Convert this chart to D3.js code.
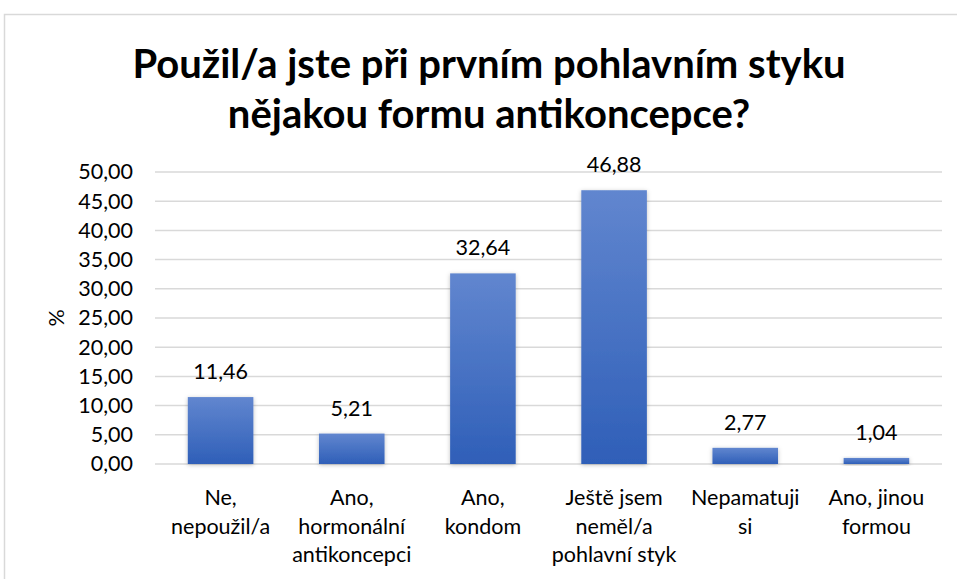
<!DOCTYPE html>
<html>
<head>
<meta charset="utf-8">
<script src="https://cdn.jsdelivr.net/npm/d3@7"></script>
<style>
  body { margin: 0; background: #fff; }
  text { font-family: Lato, "Open Sans", sans-serif; fill: #000; }
</style>
</head>
<body>
<div id="chart"></div>
<script>
// chart data
const categories = [
  "Ne,\nnepoužil/a",
  "Ano,\nhormonální\nantikoncepci",
  "Ano,\nkondom",
  "Ještě jsem\nneměl/a\npohlavní styk",
  "Nepamatuji\nsi",
  "Ano, jinou\nformou"
];
const values = [11.46, 5.21, 32.64, 46.88, 2.77, 1.04];
const yTicks = [0, 5, 10, 15, 20, 25, 30, 35, 40, 45, 50];
const titleLines = ["Použil/a jste při prvním pohlavním styku", "nějakou formu antikoncepce?"];
const yTitle = "%";

const W = 957, H = 579;
const fs = 21.5;
const fmt = v => d3.format(".2f")(v).replace(".", ",");

const svg = d3.select("#chart").append("svg")
    .attr("width", W)
    .attr("height", H);

// gradient for bars
const defs = svg.append("defs");
const grad = defs.append("linearGradient")
    .attr("id", "barGrad")
    .attr("x1", 0).attr("y1", 0).attr("x2", 0).attr("y2", 1);
grad.append("stop").attr("offset", "0%").attr("stop-color", "#6186cf");
grad.append("stop").attr("offset", "100%").attr("stop-color", "#2f5fb8");

const shadow = defs.append("filter").attr("id", "shadow")
    .attr("x", "-20%").attr("y", "-20%").attr("width", "140%").attr("height", "140%");
shadow.append("feDropShadow")
    .attr("dx", 0).attr("dy", 1).attr("stdDeviation", 2)
    .attr("flood-color", "#000").attr("flood-opacity", 0.25);

// chart frame
svg.append("rect")
    .attr("x", 4.5).attr("y", 14.5)
    .attr("width", W + 10).attr("height", H + 10)
    .attr("fill", "none")
    .attr("stroke", "#d9d9d9")
    .attr("stroke-width", 1.5);

// title
svg.append("g").selectAll("text")
  .data(titleLines)
  .join("text")
    .attr("x", 489)
    .attr("y", (d, i) => 78 + i * 50)
    .attr("text-anchor", "middle")
    .attr("font-weight", "bold")
    .attr("font-size", 40)
    .text(d => d);

const x = d3.scaleBand()
    .domain(categories)
    .range([155, 942])
    .paddingInner(0.5)
    .paddingOuter(0.25);

const y = d3.scaleLinear()
    .domain([0, 50])
    .range([464, 172]);

// gridlines
svg.append("g")
    .attr("stroke", "#d9d9d9")
    .attr("stroke-width", 1.5)
  .selectAll("line")
  .data(yTicks)
  .join("line")
    .attr("x1", 155).attr("x2", 942)
    .attr("y1", d => y(d)).attr("y2", d => y(d));

// y axis labels
const yAxis = d3.axisLeft(y)
    .tickValues(yTicks)
    .tickFormat(fmt)
    .tickSize(0)
    .tickPadding(0);
const gy = svg.append("g")
    .attr("transform", "translate(133,0)")
    .call(yAxis);
gy.select(".domain").remove();
gy.selectAll("text")
    .attr("font-size", fs)
    .attr("font-family", "Lato, sans-serif")
    .attr("fill", "#000");

// y title
svg.append("text")
    .attr("transform", "translate(64,318) rotate(-90)")
    .attr("text-anchor", "middle")
    .attr("font-size", fs)
    .text(yTitle);

// bars
svg.append("g")
  .selectAll("rect")
  .data(values)
  .join("rect")
    .attr("x", (d, i) => x(categories[i]))
    .attr("y", d => y(d))
    .attr("width", x.bandwidth())
    .attr("height", d => y(0) - y(d))
    .attr("fill", "url(#barGrad)")
    .attr("filter", "url(#shadow)");

// value labels
svg.append("g")
  .selectAll("text")
  .data(values)
  .join("text")
    .attr("x", (d, i) => x(categories[i]) + x.bandwidth() / 2)
    .attr("y", d => y(d) - 18)
    .attr("text-anchor", "middle")
    .attr("font-size", fs)
    .text(fmt);

// category labels
const cat = svg.append("g")
  .selectAll("text")
  .data(categories)
  .join("text")
    .attr("text-anchor", "middle")
    .attr("font-size", fs);
cat.selectAll("tspan")
  .data(d => d.split("\n").map(line => ({ line, cx: x(d) + x.bandwidth() / 2 })))
  .join("tspan")
    .attr("x", d => d.cx)
    .attr("y", (d, i) => 505 + i * 28.5)
    .text(d => d.line);
</script>
</body>
</html>
